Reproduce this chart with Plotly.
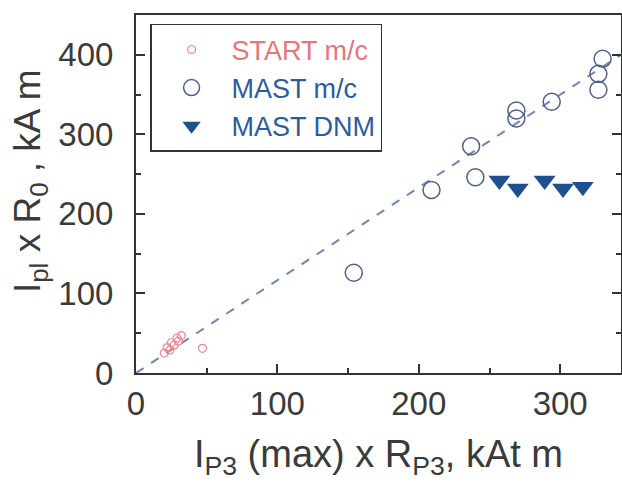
import plotly.graph_objects as go

# START m/c data
start_x = [20, 22, 24, 25, 27, 29, 30, 32, 47]
start_y = [25, 32, 29, 38, 35, 44, 40, 47, 31]

# MAST m/c data
mast_x = [154, 209, 237, 240, 269, 269, 294, 327, 327, 330]
mast_y = [126, 230, 285, 246, 320, 330, 341, 356, 376, 395]

# MAST DNM data
dnm_x = [257, 270, 289, 302, 316]
dnm_y = [242, 232, 242, 232, 234]

# Linear fit line
fit_x = [0, 343]
fit_y = [0, 400]

FONT = "Liberation Sans, Arial, sans-serif"
TXT = "#3a3a3a"
RED = "#e5767e"
BLUE = "#2d5c9c"

fig = go.Figure()
fig.add_trace(go.Scatter(x=fit_x, y=fit_y, mode="lines", showlegend=False,
                         line=dict(color="#7088b0", width=2, dash="dash")))
fig.add_trace(go.Scatter(x=start_x, y=start_y, mode="markers",
                         name=f"<span style='color:{RED}'>START m/c</span>",
                         marker=dict(symbol="circle-open", size=8, color="#e88a92",
                                     line=dict(width=1.2, color="#e88a92"))))
fig.add_trace(go.Scatter(x=mast_x, y=mast_y, mode="markers",
                         name=f"<span style='color:{BLUE}'>MAST m/c</span>",
                         marker=dict(symbol="circle-open", size=17, color="#4d6089",
                                     line=dict(width=1.5, color="#4d6089"))))
fig.add_trace(go.Scatter(x=dnm_x, y=dnm_y, mode="markers",
                         name=f"<span style='color:{BLUE}'>MAST DNM</span>",
                         marker=dict(symbol="triangle-down", size=19, color="#1f4f8f",
                                     line=dict(width=0))))

fig.update_layout(
    width=622, height=486,
    margin=dict(l=136, r=1, t=15, b=113),
    paper_bgcolor="white", plot_bgcolor="white",
    font=dict(family=FONT, color=TXT, size=33),
    legend=dict(x=0.029, y=0.975, xanchor="left", yanchor="top",
                bordercolor="#333333", borderwidth=1.5, bgcolor="white",
                font=dict(size=27), itemwidth=70, tracegroupgap=0),
    annotations=[dict(text="I<sub>pl</sub> x R<sub>0</sub> , kA m", textangle=-90,
                      xref="paper", yref="paper", x=-0.2186, y=0.536,
                      xanchor="center", yanchor="middle", showarrow=False,
                      font=dict(size=37, color=TXT))],
)
fig.update_xaxes(range=[0, 343], tickvals=[0, 100, 200, 300], ticks="inside", ticklen=9,
                 tickwidth=1.5, tickcolor="#333", showline=True, linecolor="#333", linewidth=2,
                 mirror=True, showgrid=False, zeroline=False, automargin=False,
                 minor=dict(tickvals=[50, 150, 250], ticks="inside", ticklen=5, tickcolor="#333"),
                 tickfont=dict(size=33),
                 title=dict(text="I<sub>P3</sub> (max) x R<sub>P3</sub>, kAt m",
                            font=dict(size=38), standoff=20))
fig.update_yaxes(range=[0, 450], tickvals=[0, 100, 200, 300, 400], ticks="inside", ticklen=9,
                 tickwidth=1.5, tickcolor="#333", showline=True, linecolor="#333", linewidth=2,
                 mirror="ticks", showgrid=False, zeroline=False, automargin=False,
                 minor=dict(tickvals=[50, 150, 250, 350], ticks="inside", ticklen=5, tickcolor="#333"),
                 tickfont=dict(size=33), ticklabelstandoff=14)

fig.write_html("out.html", config={"displayModeBar": False},
               post_script=("document.documentElement.style.overflow='hidden';"
                            "document.body.style.margin='0';"
                            "document.body.style.overflow='hidden';"))
